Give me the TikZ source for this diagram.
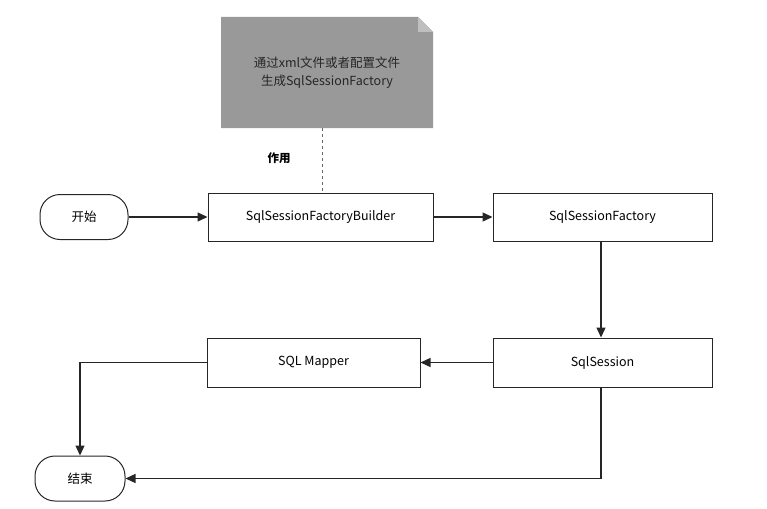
\documentclass[tikz,border=0pt]{standalone}
\usepackage{fontspec}
\setmainfont{Noto Sans CJK SC}
\usetikzlibrary{arrows.meta}
\begin{document}
\begin{tikzpicture}[x=1pt,y=-1pt,
  box/.style={draw=black!85,line width=1pt,minimum width=225pt,minimum height=48pt,font=\fontsize{12.5}{15}\selectfont,inner sep=0pt},
  term/.style={draw=black!85,line width=1pt,rounded corners=20pt,minimum width=88pt,minimum height=45pt,font=\fontsize{12.5}{15}\selectfont},
  arr/.style={-{Triangle[length=10pt,width=9pt]},line width=1.3pt,draw=black!85}]
\useasboundingbox (0,0) rectangle (767,508);
\fill[black!40] (221,17) -- (418,17) -- (433,32) -- (433,128) -- (221,128) -- cycle;
\fill[black!25] (418,17) -- (418,32) -- (433,32) -- cycle;
\node[font=\fontsize{12.5}{18}\selectfont,align=center,text=black!85] (note) at (327,73) {通过xml文件或者配置文件\\生成SqlSessionFactory};
\coordinate (nb) at (322,128);
\node[font=\bfseries\fontsize{11.5}{13}\selectfont] (zy) at (279,158) {作用};
\node[term] (start) at (84,217) {开始};
\node[box,minimum width=225pt] (b) at (320.5,217) {SqlSessionFactoryBuilder};
\node[box,minimum width=219pt] (f) at (602.5,217) {SqlSessionFactory};
\node[box,minimum width=219pt,minimum height=49pt] (s) at (602.5,362.5) {SqlSession};
\node[box,minimum width=213pt,minimum height=49pt] (m) at (313.5,362.5) {SQL Mapper};
\node[term,minimum width=90pt] (end) at (80,478.5) {结束};
\draw[dashed,black!60,line width=1pt] (nb) -- (b.north -| nb);
\draw[arr] (start) -- (b);
\draw[arr] (b) -- (f);
\draw[arr] (f.south -| 601,0) -- (s.north -| 601,0);
\draw[arr] (s) -- (m);
\draw[arr] (m.west) -| (end.north);
\draw[arr] (s.south -| 601,0) |- (end.east);
\end{tikzpicture}
\end{document}
